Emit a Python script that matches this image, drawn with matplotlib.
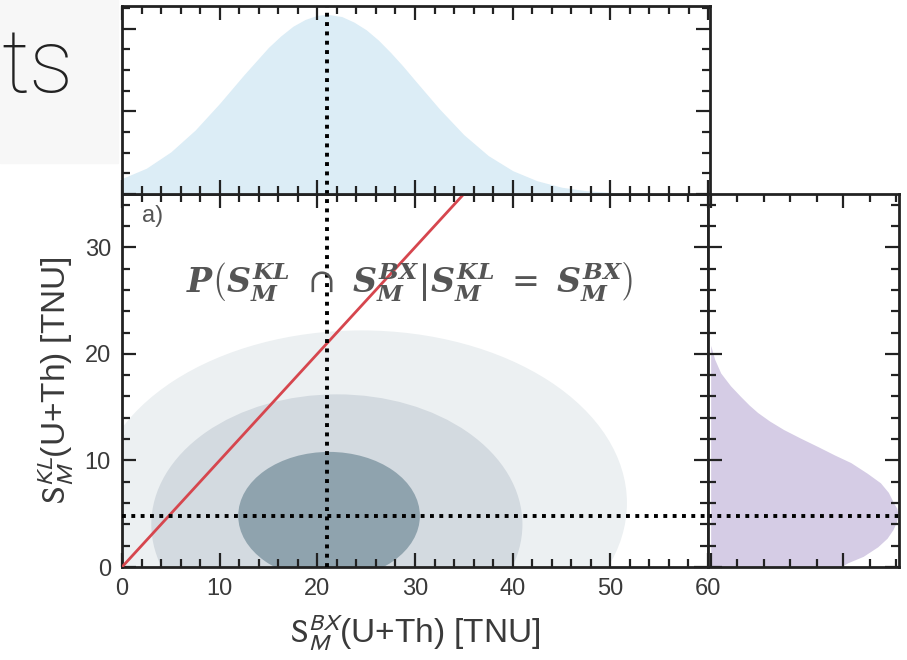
import matplotlib.pyplot as plt
from matplotlib.patches import Ellipse, Rectangle
from matplotlib.ticker import MultipleLocator

plt.rcParams['font.family'] = ['Liberation Sans', 'DejaVu Sans']
plt.rcParams['mathtext.fontset'] = 'custom'
plt.rcParams['mathtext.it'] = 'DejaVu Serif:italic:bold'
plt.rcParams['mathtext.rm'] = 'DejaVu Serif'
plt.rcParams['mathtext.bf'] = 'DejaVu Serif:bold'

# marginal posterior of S_M^BX (top panel)
bx_x = [0, 2.5, 5, 7.5, 10, 12.5, 15, 16.25, 17.5, 18.75, 20, 21, 22.5, 23.75,
        25, 26.25, 27.5, 28.75, 30, 32.5, 35, 37.5, 40, 42.5, 45, 47.5, 50,
        52.5, 55, 60]
bx_p = [0.075, 0.125, 0.204, 0.31, 0.439, 0.578, 0.71, 0.765, 0.812, 0.845,
        0.865, 0.87, 0.859, 0.832, 0.795, 0.745, 0.685, 0.62, 0.55, 0.412,
        0.287, 0.186, 0.113, 0.064, 0.033, 0.016, 0.008, 0.003, 0.001, 0.0]

# marginal posterior of S_M^KL (right panel)
kl_y = [0, 0.4, 1.0, 1.9, 2.7, 3.5, 4.2, 4.9, 5.5, 6.0, 7.0, 7.9, 8.8, 9.8,
        10.5, 11.3, 12.1, 12.9, 13.7, 14.5, 15.2, 16.0, 17.0, 18.2, 19.5, 20.8]
kl_p = [0.49, 0.517, 0.575, 0.63, 0.665, 0.687, 0.70, 0.706, 0.702, 0.69,
        0.67, 0.64, 0.59, 0.528, 0.468, 0.404, 0.338, 0.275, 0.222, 0.177,
        0.145, 0.113, 0.075, 0.038, 0.015, 0.0]

# joint credible regions, outer to inner
region_cx = [24.5, 22.0, 21.2]
region_cy = [6.0, 4.0, 4.8]
region_w = [54.4, 38.0, 18.6]
region_h = [32.4, 24.4, 12.0]
region_colors = ['#ecf0f2', '#d3dae0', '#8fa3ae']

# equality line S_KL = S_BX
eq_x = [0, 35]
eq_y = [0, 35]

best_bx = 21.0
best_kl = 4.8

W, H = 907, 660
fig = plt.figure(figsize=(W / 100, H / 100), dpi=100)

# leftover of the slide behind the chart
fig.patches.append(Rectangle((0, 1 - 163 / H), 118 / W, 163 / H,
                             transform=fig.transFigure, color='#f7f7f7', zorder=0))
fig.text(1 / W, 1 - 92 / H, 'ts', ha='left', va='baseline', fontsize=64,
         family='Roboto', weight='light', color='#222222')

ax = fig.add_axes([122 / W, 93 / H, 586 / W, 373 / H])
ax_top = fig.add_axes([122 / W, 466 / H, 588 / W, 188 / H])
ax_r = fig.add_axes([708 / W, 93 / H, 191 / W, 373 / H])

spine_c = '#222222'
for a in (ax, ax_top, ax_r):
    for s in a.spines.values():
        s.set_linewidth(2)
        s.set_color(spine_c)
    a.tick_params(which='both', direction='in', top=True, right=True,
                  color=spine_c, width=1.6)
    a.tick_params(which='major', length=10)
    a.tick_params(which='minor', length=6)

# main panel
for cx, cy, w, h, c in zip(region_cx, region_cy, region_w, region_h, region_colors):
    ax.add_patch(Ellipse((cx, cy), w, h, facecolor=c, edgecolor='none', zorder=1))
ax.plot(eq_x, eq_y, color='#d6464e', lw=2, zorder=3)
ax.axvline(best_bx, color='black', lw=2.8, ls=(0, (1, 1.4)), zorder=4)
ax.axhline(best_kl, color='black', lw=2.8, ls=(0, (1, 1.4)), zorder=4)
ax.set_xlim(0, 60)
ax.set_ylim(0, 35)
ax.xaxis.set_major_locator(MultipleLocator(10))
ax.xaxis.set_minor_locator(MultipleLocator(2))
ax.yaxis.set_major_locator(MultipleLocator(10))
ax.yaxis.set_minor_locator(MultipleLocator(2))
ax.tick_params(labelsize=17, labelcolor='#3a3a3a', pad=8)
ax.set_xlabel(r'$\mathrm{S}_{M}^{BX}$(U+Th) [TNU]', fontsize=24, color='#3a3a3a',
              math_fontfamily='stixsans', labelpad=9)
ax.set_ylabel(r'$\mathrm{S}_{M}^{KL}$(U+Th) [TNU]', fontsize=24, color='#3a3a3a',
              math_fontfamily='stixsans', labelpad=6)
ax.text(2.0, 32.9, 'a)', fontsize=17, color='#555555', va='center')
ax.text(29.4, 26.7,
        r'$P\left(S_M^{KL}\;\cap\;S_M^{BX}\right|\left.S_M^{KL}\;=\;S_M^{BX}\right)$',
        fontsize=24, color='#555555', ha='center', va='center', zorder=5)

# top marginal
ax_top.fill_between(bx_x, bx_p, color='#dcedf6', lw=0)
ax_top.axvline(best_bx, color='black', lw=2.8, ls=(0, (1, 1.4)))
ax_top.set_xlim(0, 60.2)
ax_top.set_ylim(0, 0.91)
ax_top.xaxis.set_major_locator(MultipleLocator(10))
ax_top.xaxis.set_minor_locator(MultipleLocator(2))
ax_top.yaxis.set_major_locator(MultipleLocator(0.4))
ax_top.yaxis.set_minor_locator(MultipleLocator(0.1))
ax_top.tick_params(labelbottom=False, labelleft=False)

# right marginal
ax_r.fill_betweenx(kl_y, kl_p, color='#d5cce5', lw=0)
ax_r.axhline(best_kl, color='black', lw=2.8, ls=(0, (1, 1.4)))
ax_r.set_xlim(-0.01, 0.71)
ax_r.set_ylim(0, 35)
ax_r.xaxis.set_major_locator(MultipleLocator(0.5))
ax_r.xaxis.set_minor_locator(MultipleLocator(0.1))
ax_r.yaxis.set_major_locator(MultipleLocator(10))
ax_r.yaxis.set_minor_locator(MultipleLocator(2))
ax_r.tick_params(labelbottom=False, labelleft=False)

fig.savefig('out.png', dpi=100)
